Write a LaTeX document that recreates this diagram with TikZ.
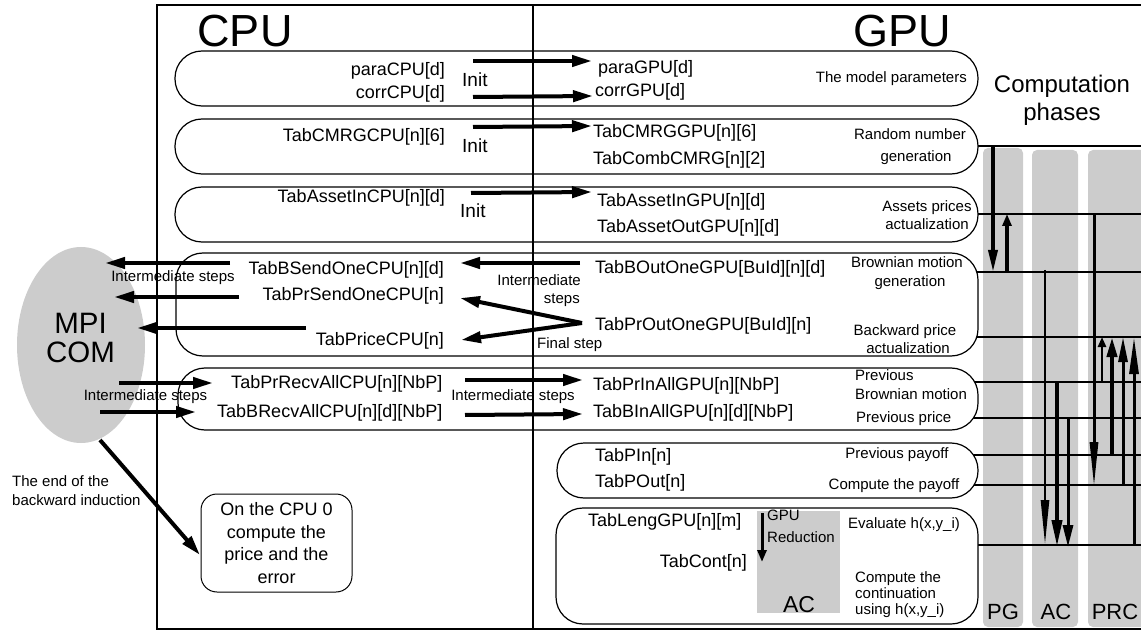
\documentclass[tikz,border=0pt]{standalone}
\usepackage{fontspec}
\setmainfont{Liberation Sans}
\usetikzlibrary{arrows.meta,shapes.geometric}
\begin{document}
\begin{tikzpicture}[x=1pt,y=-1pt,
  lbl/.style={inner sep=0pt,font=\fontsize{18}{20}\selectfont},
  sm/.style={inner sep=0pt,font=\fontsize{15}{17}\selectfont},
  initlbl/.style={inner sep=0pt,font=\fontsize{19}{21}\selectfont},
  big/.style={inner sep=0pt,font=\fontsize{45}{50}\selectfont},
  phase/.style={inner sep=0pt,font=\fontsize{22}{24}\selectfont},
  stage/.style={draw,line width=1.2pt,rounded corners=27pt,fill=white},
  greycol/.style={fill=black!20,draw=none,rounded corners=5pt},
  arr/.style={line width=4pt,-{Triangle[length=20pt,width=11pt]}},
  hline/.style={line width=1.2pt},
]
\useasboundingbox (0,0) rectangle (1141,631);
\clip (0,0) rectangle (1141,631);

% computation phase columns
\fill[greycol] (983,148) rectangle (1023,627);
\fill[greycol] (1032,150) rectangle (1078,627);
\fill[greycol] (1088,150) rectangle (1160,627);

% phase lines
\foreach \yy in {146,214,272,337,382,418,455,485,545}
  \draw[hline] (960,\yy) -- (1160,\yy);

% stage boxes
\draw[stage] (175,51) rectangle (978,106);
\draw[stage] (175,119) rectangle (978,174);
\draw[stage] (175,187) rectangle (978,242);
\draw[stage] (176,253) rectangle (978,356);
\draw[stage] (178,368) rectangle (978,430);
\draw[stage] (557,443) rectangle (978,498);
\draw[stage] (556,508) rectangle (978,624);
\fill[black!20] (757,511) rectangle (840,613);

% frame
\draw[line width=2pt] (157,5) rectangle (1170,629);
\draw[line width=1.5pt] (533,5) -- (533,629);

% MPI ellipse
\node[ellipse,fill=black!20,minimum width=128pt,minimum height=196pt,inner sep=0pt] (mpi) at (81,345) {};
\node[inner sep=0pt,font=\fontsize{29.5}{29}\selectfont,anchor=base] (mpit) at (80.5,333) {MPI};
\node[inner sep=0pt,font=\fontsize{29.5}{29}\selectfont,anchor=base] (comt) at (80.5,362) {COM};

% titles
\node[big] (cpu) at (245,31) {CPU};
\node[big] (gpu) at (902,31) {GPU};
\node[inner sep=0pt,font=\fontsize{24}{28}\selectfont,anchor=base] (comp1) at (1062,93) {Computation};
\node[inner sep=0pt,font=\fontsize{24}{28}\selectfont,anchor=base] (comp2) at (1062,121) {phases};

% CPU labels
\node[lbl,anchor=base east] (paraCPU) at (445,76) {paraCPU[d]};
\node[lbl,anchor=base east] (corrCPU) at (445,99) {corrCPU[d]};
\node[lbl,anchor=base east] (cmrgCPU) at (445,142) {TabCMRGCPU[n][6]};
\node[lbl,anchor=base east] (assetCPU) at (445,203) {TabAssetInCPU[n][d]};
\node[lbl,anchor=base east] (bsendCPU) at (444,275) {TabBSendOneCPU[n][d]};
\node[lbl,anchor=base east] (prsendCPU) at (444,300) {TabPrSendOneCPU[n]};
\node[lbl,anchor=base east] (priceCPU) at (444,345) {TabPriceCPU[n]};
\node[lbl,anchor=base east] (prrecvCPU) at (442.5,388) {TabPrRecvAllCPU[n][NbP]};
\node[lbl,anchor=base east] (brecvCPU) at (442.5,417) {TabBRecvAllCPU[n][d][NbP]};

\node[initlbl,anchor=base west] (init1) at (462,87) {Init};
\node[initlbl,anchor=base west] (init2) at (462,153) {Init};
\node[initlbl,anchor=base west] (init3) at (460,218) {Init};

% GPU labels
\node[lbl,anchor=base west] (paraGPU) at (598,74) {paraGPU[d]};
\node[lbl,anchor=base west] (corrGPU) at (595,97) {corrGPU[d]};
\node[lbl,anchor=base west] (cmrgGPU) at (593,138) {TabCMRGGPU[n][6]};
\node[lbl,anchor=base west] (combGPU) at (593,165) {TabCombCMRG[n][2]};
\node[lbl,anchor=base west] (assetInGPU) at (597,207) {TabAssetInGPU[n][d]};
\node[lbl,anchor=base west] (assetOutGPU) at (597,233) {TabAssetOutGPU[n][d]};
\node[lbl,anchor=base west] (boutGPU) at (595,273) {TabBOutOneGPU[BuId][n][d]};
\node[lbl,anchor=base west] (proutGPU) at (595,330) {TabPrOutOneGPU[BuId][n]};
\node[lbl,anchor=base west] (prinGPU) at (593,390) {TabPrInAllGPU[n][NbP]};
\node[lbl,anchor=base west] (binGPU) at (593,417) {TabBInAllGPU[n][d][NbP]};
\node[lbl,anchor=base west] (pin) at (595,461) {TabPIn[n]};
\node[lbl,anchor=base west] (pout) at (595,487) {TabPOut[n]};
\node[lbl,anchor=base west] (leng) at (588,526) {TabLengGPU[n][m]};
\node[lbl,anchor=base east] (cont) at (747,567) {TabCont[n]};

% small descriptions
\node[sm,anchor=base east] (d1) at (967,83) {The model parameters};
\node[sm,anchor=base] (d2a) at (910,140) {Random number};
\node[sm,anchor=base] (d2b) at (916,162) {generation};
\node[sm,anchor=base] (d3a) at (927,212) {Assets prices};
\node[sm,anchor=base] (d3b) at (927,230) {actualization};
\node[sm,anchor=base] (d4a) at (907,268) {Brownian motion};
\node[sm,anchor=base] (d4b) at (910,287) {generation};
\node[sm,anchor=base] (d4c) at (905,335) {Backward price};
\node[sm,anchor=base] (d4d) at (908,353) {actualization};
\node[sm,anchor=base west] (d5a) at (855,380) {Previous};
\node[sm,anchor=base west] (d5b) at (855,399) {Brownian motion};
\node[sm,anchor=base west] (d5c) at (856,422) {Previous price};
\node[sm,anchor=base] (d6a) at (897,458) {Previous payoff};
\node[sm,anchor=base] (d6b) at (894,489) {Compute the payoff};
\node[sm,anchor=base west] (red1) at (767,520) {GPU};
\node[sm,anchor=base west] (red2) at (767,542) {Reduction};
\node[sm,anchor=base west] (d7a) at (848,528) {Evaluate h(x,y\_i)};
\node[sm,anchor=base west] (d7b) at (855,582) {Compute the};
\node[sm,anchor=base west] (d7c) at (855,598) {continuation};
\node[sm,anchor=base west] (d7d) at (855,614) {using h(x,y\_i)};
\node[inner sep=0pt,font=\fontsize{23}{25}\selectfont,anchor=base] (acbox) at (799,612) {AC};

% step labels
\node[sm,anchor=base] (st1) at (173,282) {Intermediate steps};
\node[sm,anchor=base east] (st2a) at (581,285) {Intermediate};
\node[sm,anchor=base east] (st2b) at (580,303) {steps};
\node[sm,anchor=base west] (fin) at (537,348) {Final step};
\node[sm,anchor=base] (st3) at (145.5,400) {Intermediate steps};
\node[sm,anchor=base] (st4) at (513,400) {Intermediate steps};
\node[sm,anchor=base west] (end1) at (12,486) {The end of the};
\node[sm,anchor=base west] (end2) at (12,505) {backward induction};

% CPU 0 box
\node[draw,line width=1pt,rounded corners=16pt,minimum width=151pt,minimum height=98pt,
  align=center,font=\fontsize{18}{22.5}\selectfont,inner sep=0pt] (cpu0) at (276.5,543)
  {On the CPU 0\\compute the\\price and the\\error};

% phase labels
\node[phase,anchor=base] (pg) at (1003,619) {PG};
\node[phase,anchor=base] (ac) at (1056,619) {AC};
\node[phase,anchor=base] (prc) at (1115,619) {PRC};

% connector end points
\coordinate (a1s) at (473,61);  \coordinate (a1e) at (592,61);
\coordinate (a2s) at (473,97);  \coordinate (a2e) at (593,96);
\coordinate (a3s) at (473,127); \coordinate (a3e) at (592,126);
\coordinate (a4s) at (471,193); \coordinate (a4e) at (592,192);
\coordinate (b1s) at (230,263); \coordinate (b1e) at (105,263);
\coordinate (b2s) at (239,297); \coordinate (b2e) at (114,297);
\coordinate (b3s) at (306,328); \coordinate (b3e) at (137,328);
\coordinate (c1s) at (580,263); \coordinate (c1e) at (460,263);
\coordinate (c2s) at (582,323); \coordinate (c2e) at (460,298);
\coordinate (c3e) at (461,340);
\coordinate (d1s) at (119,383); \coordinate (d1e) at (213,383);
\coordinate (d2s) at (100,412); \coordinate (d2e) at (196,412);
\coordinate (e1s) at (465,380); \coordinate (e1e) at (583,380);
\coordinate (e2s) at (465,415); \coordinate (e2e) at (583,414);
\coordinate (fs) at (100,440);  \coordinate (fe) at (200,555);
\coordinate (gs) at (762,513);  \coordinate (ge) at (762,562);

\draw[arr] (a1s) -- (a1e);
\draw[arr] (a2s) -- (a2e);
\draw[arr] (a3s) -- (a3e);
\draw[arr] (a4s) -- (a4e);
\draw[arr] (b1s) -- (b1e);
\draw[arr] (b2s) -- (b2e);
\draw[arr] (b3s) -- (b3e);
\draw[arr] (c1s) -- (c1e);
\draw[arr] (c2s) -- (c2e);
\draw[arr] (c2s) -- (c3e);
\draw[arr] (d1s) -- (d1e);
\draw[arr] (d2s) -- (d2e);
\draw[arr] (e1s) -- (e1e);
\draw[arr] (e2s) -- (e2e);
\draw[arr] (fs) -- (fe);
\draw[line width=3pt,-{Triangle[length=12pt,width=9pt]}] (gs) -- (ge);

% phase arrows
\draw[line width=3.5pt,-{Triangle[length=22pt,width=9pt]}] (993,146) -- (993,272);
\draw[line width=3.5pt,-{Triangle[length=12pt,width=9pt]}] (1007,272) -- (1007,214);
\draw[line width=2.5pt,-{Triangle[length=45pt,width=8pt]}] (1045,270) -- (1045,545);
\draw[line width=4pt,-{Triangle[length=27pt,width=10pt]}] (1057,382) -- (1057,547);
\draw[line width=3pt,-{Triangle[length=22pt,width=10pt]}] (1068,418) -- (1068,547);
\draw[line width=3pt,-{Triangle[length=45pt,width=8pt]}] (1094,214) -- (1094,487);
\draw[line width=2.5pt,-{Triangle[length=10pt,width=8pt]}] (1102,382) -- (1102,337);
\draw[line width=4pt,-{Triangle[length=20pt,width=10pt]}] (1112,455) -- (1112,337);
\draw[line width=3pt,-{Triangle[length=25pt,width=9pt]}] (1123,485) -- (1123,337);
\draw[line width=3pt,-{Triangle[length=37pt,width=9pt]}] (1134,545) -- (1134,337);
\end{tikzpicture}
\end{document}
